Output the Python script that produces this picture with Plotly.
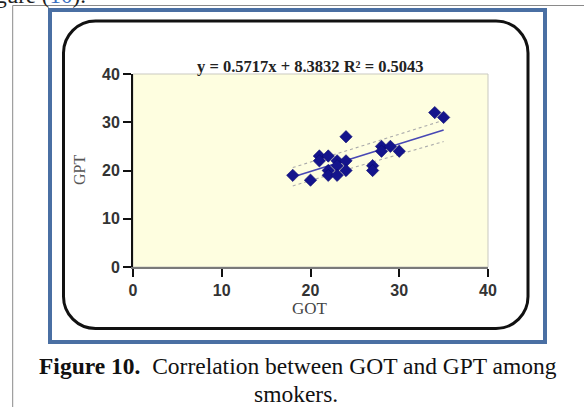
import numpy as np
import plotly.graph_objects as go

# ---- data ----
got = [18, 20, 21, 21, 22, 22, 22, 23, 23, 23, 24, 24, 24, 27, 27, 28, 28, 29, 30, 34, 35]
gpt = [19, 18, 23, 22, 23, 20, 19, 22, 21, 19, 27, 22, 20, 21, 20, 25, 24, 25, 24, 32, 31]
slope = 0.5717
intercept = 8.3832
r2 = 0.5043
band_x = [18, 25, 35]
band_upper = [20.6, 24.6, 30.4]
band_lower = [16.8, 20.7, 26.0]
x_ticks = [0, 10, 20, 30, 40]
y_ticks = [0, 10, 20, 30, 40]

W, H = 584, 407
L, R, T, B = 133, 96, 74, 140
pw, ph = W - L - R, H - T - B


def fx(px):
    return (px - L) / pw


def fy(py):
    return (H - B - py) / ph


fig = go.Figure()

# regression line
lx = np.array([min(got), max(got)], dtype=float)
fig.add_trace(go.Scatter(x=lx, y=slope * lx + intercept, mode="lines",
                         line=dict(color="#4848b4", width=1.6), hoverinfo="skip"))
# confidence band
for yb in (band_upper, band_lower):
    fig.add_trace(go.Scatter(x=band_x, y=yb, mode="lines",
                             line=dict(color="#ababab", width=1.1, dash="dot"), hoverinfo="skip"))
# points
fig.add_trace(go.Scatter(x=got, y=gpt, mode="markers",
                         marker=dict(symbol="diamond", size=9.5, color="#14148c",
                                     line=dict(color="#0a0a70", width=0.6))))

# decorations
shapes = []
# page lines
shapes.append(dict(type="line", xref="paper", yref="paper", x0=fx(12.7), x1=fx(W + 5),
                   y0=fy(5.5), y1=fy(5.5), line=dict(color="#8a8a8a", width=1)))
shapes.append(dict(type="line", xref="paper", yref="paper", x0=fx(12.7), x1=fx(12.7),
                   y0=fy(5.5), y1=fy(H + 5), line=dict(color="#8a8a8a", width=1)))
# blue frame
shapes.append(dict(type="rect", xref="paper", yref="paper", x0=fx(50), x1=fx(545),
                   y0=fy(10), y1=fy(342), line=dict(color="#4a6fa3", width=4)))
# rounded rect
x0, x1, y0, y1 = 63.5, 528, 21, 328.5
r = 32
k = 0.5523 * r


def P(px, py):
    return f"{fx(px):.5f},{fy(py):.5f}"


path = (f"M {P(x0 + r, y0)} L {P(x1 - r, y0)} "
        f"C {P(x1 - r + k, y0)} {P(x1, y0 + r - k)} {P(x1, y0 + r)} "
        f"L {P(x1, y1 - r)} "
        f"C {P(x1, y1 - r + k)} {P(x1 - r + k, y1)} {P(x1 - r, y1)} "
        f"L {P(x0 + r, y1)} "
        f"C {P(x0 + r - k, y1)} {P(x0, y1 - r + k)} {P(x0, y1 - r)} "
        f"L {P(x0, y0 + r)} "
        f"C {P(x0, y0 + r - k)} {P(x0 + r - k, y0)} {P(x0 + r, y0)} Z")
shapes.append(dict(type="path", xref="paper", yref="paper", path=path,
                   line=dict(color="#111111", width=3)))
# plot border (top/right light gray)
shapes.append(dict(type="rect", xref="paper", yref="paper", x0=0, x1=1, y0=0, y1=1,
                   line=dict(color="#c9c9c0", width=1), layer="below"))

annotations = [
    dict(text=f"y = {slope}x + {intercept} R² = {r2}", xref="paper", yref="paper",
         x=fx(310), y=fy(66), showarrow=False, xanchor="center", yanchor="middle",
         font=dict(family="Liberation Serif", size=16.5, color="#222", weight="bold")),
    dict(text="GOT", xref="paper", yref="paper", x=fx(310), y=fy(308), showarrow=False,
         xanchor="center", yanchor="middle",
         font=dict(family="Liberation Serif", size=17, color="#444")),
    dict(text="GPT", xref="paper", yref="paper", x=fx(79), y=fy(170), showarrow=False,
         textangle=-90, xanchor="center", yanchor="middle",
         font=dict(family="Liberation Serif", size=16, color="#555")),
    dict(text="<b>Figure 10.</b>  Correlation between GOT and GPT among", xref="paper",
         yref="paper", x=fx(298), y=fy(366), showarrow=False, xanchor="center",
         yanchor="middle", font=dict(family="Liberation Serif", size=23.5, color="#111")),
    dict(text="smokers.", xref="paper", yref="paper", x=fx(296), y=fy(394),
         showarrow=False, xanchor="center", yanchor="middle",
         font=dict(family="Liberation Serif", size=23.5, color="#111")),
    dict(text="Figure (<span style='color:#3b6fc0'>10</span>).", xref="paper", yref="paper",
         x=fx(88), y=fy(-4), showarrow=False, xanchor="right", yanchor="middle",
         font=dict(family="Liberation Serif", size=23, color="#222")),
]

fig.update_layout(
    width=W, height=H, margin=dict(l=L, r=R, t=T, b=B, pad=0),
    paper_bgcolor="white", plot_bgcolor="#fefee0", showlegend=False,
    shapes=shapes, annotations=annotations,
    xaxis=dict(range=[0, 40], tickvals=x_ticks, ticks="outside", ticklen=8, tickwidth=2,
               tickcolor="#111", showline=True, linecolor="#7a7a7a", linewidth=2,
               showgrid=False, zeroline=False,
               tickfont=dict(family="Liberation Sans", size=16, color="#333", weight="bold")),
    yaxis=dict(range=[0, 40], tickvals=y_ticks, ticks="outside", ticklen=8, tickwidth=2,
               tickcolor="#111", showline=True, linecolor="#111", linewidth=2,
               showgrid=False, zeroline=False,
               tickfont=dict(family="Liberation Sans", size=16, color="#333", weight="bold")),
)

fig.write_html("out.html", config={"displayModeBar": False},
               post_script="document.body.style.margin='0';document.body.style.overflow='hidden';")
